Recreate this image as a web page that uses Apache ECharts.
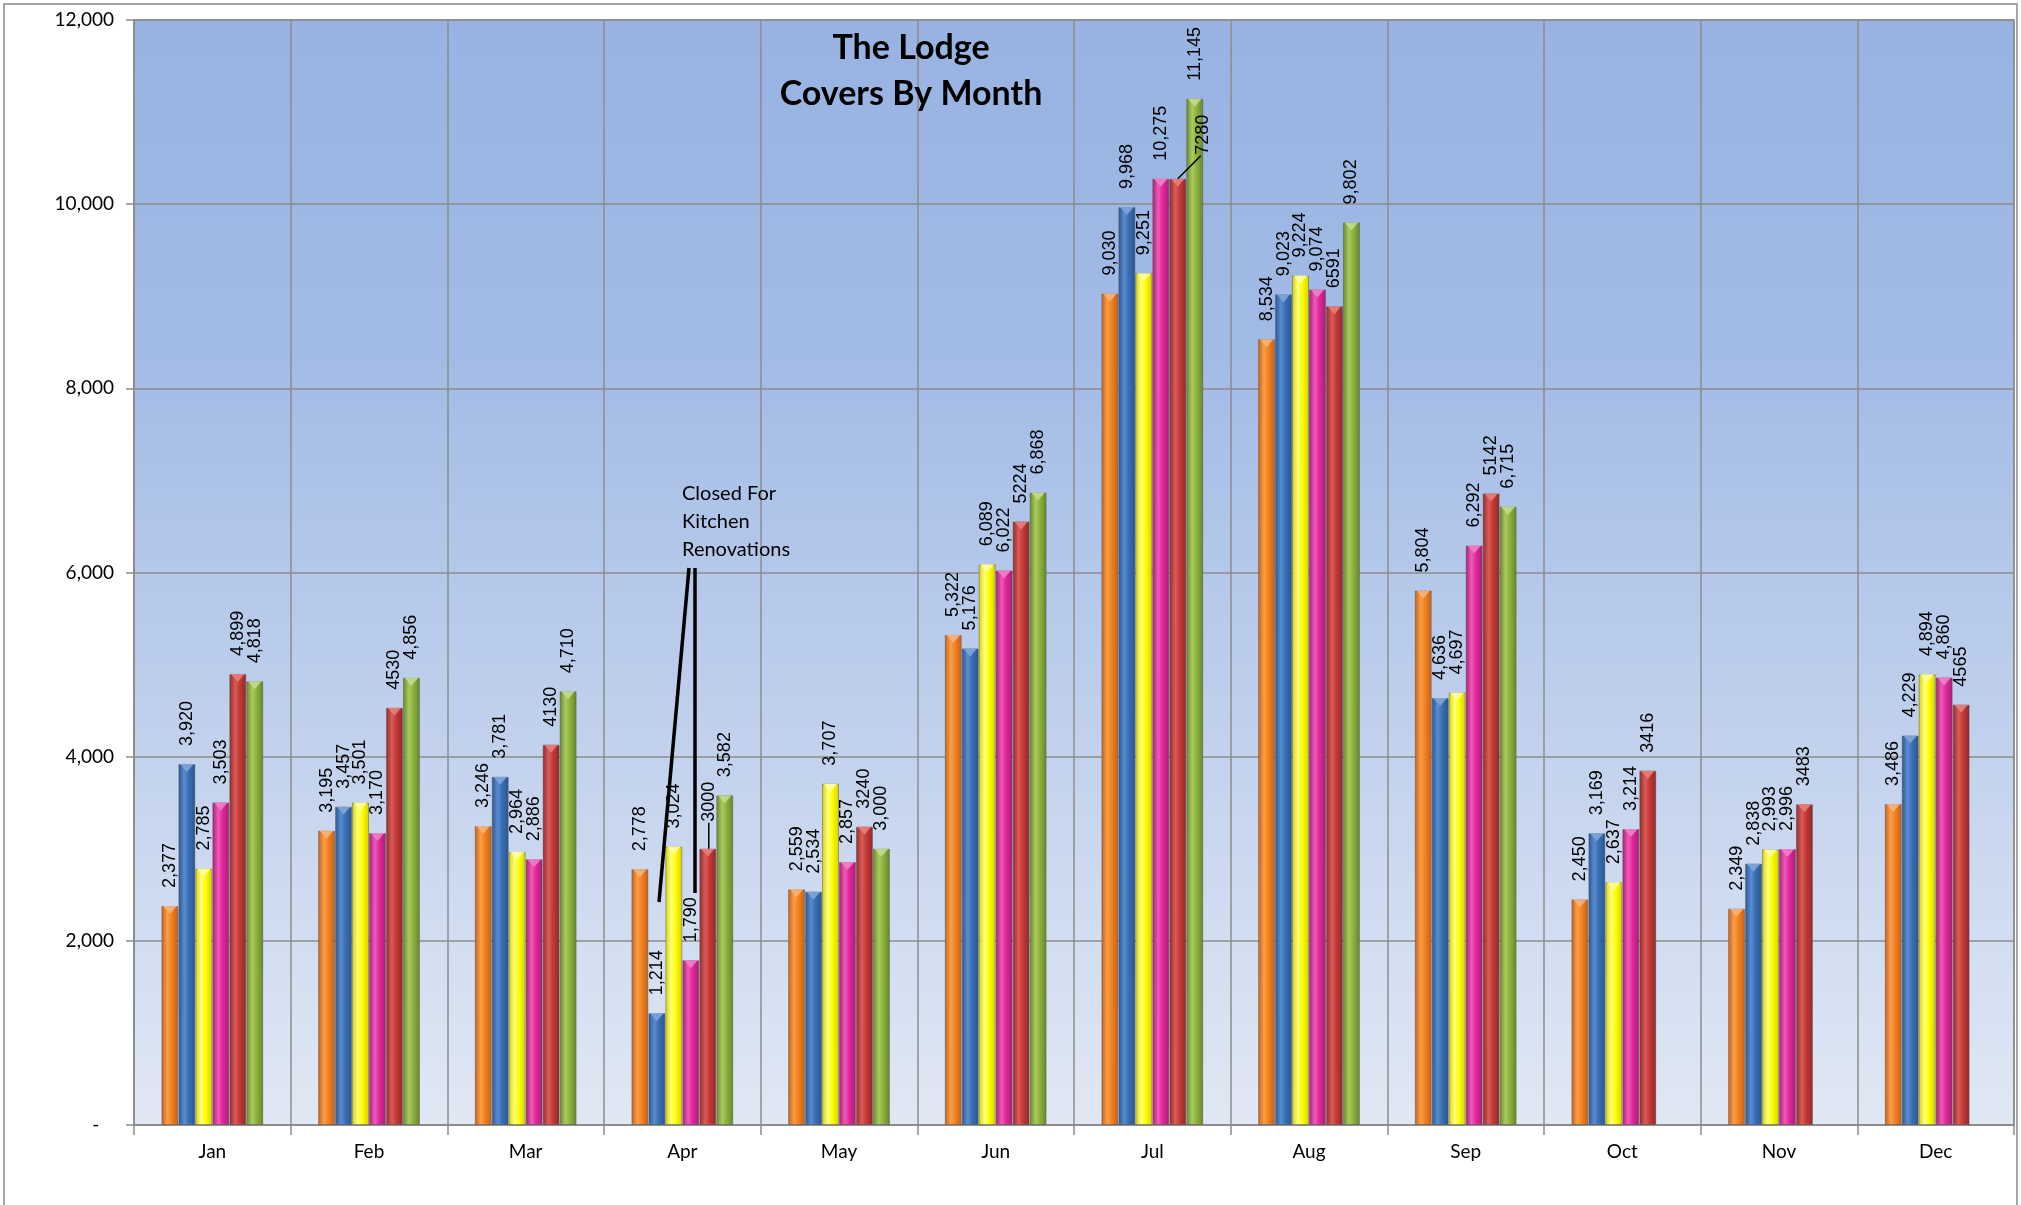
<!DOCTYPE html>
<html>
<head>
<meta charset="utf-8">
<script src="https://cdn.jsdelivr.net/npm/echarts@6/dist/echarts.min.js"></script>
<style>
html,body{margin:0;padding:0;background:#fff;}
#chart{width:2021px;height:1205px;}
</style>
</head>
<body>
<div id="chart"></div>
<script>
const months = ['Jan','Feb','Mar','Apr','May','Jun','Jul','Aug','Sep','Oct','Nov','Dec'];
const orangeVals  = [2377, 3195, 3246, 2778, 2559, 5322, 9030, 8534, 5804, 2450, 2349, 3486];
const blueVals    = [3920, 3457, 3781, 1214, 2534, 5176, 9968, 9023, 4636, 3169, 2838, 4229];
const yellowVals  = [2785, 3501, 2964, 3024, 3707, 6089, 9251, 9224, 4697, 2637, 2993, 4894];
const magentaVals = [3503, 3170, 2886, 1790, 2857, 6022, 10275, 9074, 6292, 3214, 2996, 4860];
const redVals     = [4899, 4530, 4130, 3000, 3240, 6554, 10275, 8891, 6859, 3848, 3483, 4565];
const redLabels   = ['4,899','4530','4130','3000','3240','5224','7280','6591','5142','3416','3483','4565'];
const greenVals   = [4818, 4856, 4710, 3582, 3000, 6868, 11145, 9802, 6715, null, null, null];
const yTickStep = 2000;
const yMax = 12000;

const palette = {
  orange:  ['#C4601A', '#FA9E48', '#F2821F', '#F7B27A'],
  blue:    ['#2A5690', '#5A8CD0', '#3A6EB3', '#7FA6DB'],
  yellow:  ['#D6D000', '#FFFF80', '#FFFF00', '#FFFFA0'],
  magenta: ['#A91C74', '#F05AB8', '#E0289A', '#F27FC6'],
  red:     ['#912828', '#DA5C57', '#C33A38', '#E47F7B'],
  green:   ['#65862A', '#AACB5E', '#8DB23E', '#C2DC8A']
};

function grad(c) {
  return new echarts.graphic.LinearGradient(0, 0, 1, 0, [
    {offset: 0, color: c[0]},
    {offset: 0.35, color: c[1]},
    {offset: 0.6, color: c[2]},
    {offset: 1, color: c[0]}
  ]);
}

function fmt(v) { return Number(v).toLocaleString('en-US'); }

function makeSeries(name, vals, colors, labels) {
  return {
    name: name,
    type: 'bar',
    barGap: '0%',
    barCategoryGap: '35%',
    data: vals.map(v => v),
    itemStyle: { color: grad(colors), borderColor: 'rgba(80,80,80,0.45)', borderWidth: 1 },
    label: {
      show: true,
      position: 'top',
      rotate: 90,
      align: 'left',
      verticalAlign: 'middle',
      distance: 18,
      fontFamily: 'Liberation Sans',
      fontSize: 18,
      color: '#000',
      formatter: p => (p.value == null ? '' : (labels ? labels[p.dataIndex] : fmt(p.value)))
    }
  };
}

// bevelled top of each bar (light downward triangle), same slots as the bars
function makeCap(name, vals, colors) {
  return {
    name: name + ' cap',
    type: 'pictorialBar',
    barGap: '0%',
    barCategoryGap: '35%',
    symbol: 'triangle',
    symbolRotate: 180,
    symbolPosition: 'end',
    symbolSize: ['80%', 8],
    symbolClip: false,
    silent: true,
    z: 3,
    data: vals.map(v => v),
    itemStyle: { color: colors[3], opacity: 0.9 },
    label: { show: false }
  };
}

const chart = echarts.init(document.getElementById('chart'), null, {renderer: 'canvas'});

const redSeries = makeSeries('Red', redVals, palette.red, redLabels);
redSeries.labelLayout = function (p) {
  if (p.dataIndex === 6) return { dx: 6, dy: 25 };
  if (p.dataIndex === 3) return { dx: 9, dy: 1 };
  return {};
};

function staticGraphics(extra) {
  return [
    { type: 'rect', shape: { x: 4, y: 4, width: 2013, height: 1215 }, style: { fill: 'none', stroke: '#A6A6A6', lineWidth: 2 }, silent: true, z: -1 },
    { type: 'text', left: 682, top: 480, style: { text: 'Closed For\nKitchen\nRenovations', fontFamily: 'Lato', fontSize: 20, lineHeight: 28, fill: '#000' }, z: 100 },
    { type: 'line', shape: { x1: 689, y1: 568, x2: 659, y2: 902 }, style: { stroke: '#000', lineWidth: 3.5 }, z: 100 },
    { type: 'line', shape: { x1: 695, y1: 568, x2: 695, y2: 893 }, style: { stroke: '#000', lineWidth: 3.5 }, z: 100 }
  ].concat(extra || []);
}

const option = {
  animation: false,
  backgroundColor: '#fff',
  title: {
    text: 'The Lodge\nCovers By Month',
    left: 906,
    top: 20,
    textAlign: 'center',
    textStyle: { fontFamily: 'Lato', fontWeight: 'bold', fontSize: 34, lineHeight: 46, color: '#000' }
  },
  grid: {
    left: 134, right: 7, top: 20, bottom: 80,
    show: true,
    borderColor: '#8C8C8C',
    borderWidth: 1.5,
    backgroundColor: new echarts.graphic.LinearGradient(0, 0, 0, 1, [
      {offset: 0, color: '#98B3E2'},
      {offset: 0.3, color: '#A2BBE6'},
      {offset: 1, color: '#E1E8F4'}
    ])
  },
  xAxis: {
    type: 'category',
    data: months,
    boundaryGap: true,
    axisLine: { show: true, lineStyle: { color: '#8C8C8C', width: 1.5 } },
    axisTick: { show: true, length: 10, lineStyle: { color: '#8C8C8C', width: 1.5 } },
    splitLine: { show: true, lineStyle: { color: '#8C8C8C', width: 1.5 } },
    axisLabel: { fontFamily: 'Lato', fontSize: 19, color: '#000', margin: 17 }
  },
  yAxis: {
    type: 'value',
    min: 0, max: yMax, interval: yTickStep,
    axisLine: { show: true, lineStyle: { color: '#8C8C8C', width: 1.5 } },
    axisTick: { show: true, length: 8, lineStyle: { color: '#8C8C8C', width: 1.5 } },
    splitLine: { show: true, lineStyle: { color: '#8C8C8C', width: 1.5 } },
    axisLabel: {
      fontFamily: 'Lato', fontSize: 19, color: '#000', margin: 20,
      formatter: v => v === 0 ? '-   ' : fmt(v)
    }
  },
  series: [
    makeSeries('Orange', orangeVals, palette.orange),
    makeSeries('Blue', blueVals, palette.blue),
    makeSeries('Yellow', yellowVals, palette.yellow),
    makeSeries('Magenta', magentaVals, palette.magenta),
    redSeries,
    makeSeries('Green', greenVals, palette.green),
    makeCap('Orange', orangeVals, palette.orange),
    makeCap('Blue', blueVals, palette.blue),
    makeCap('Yellow', yellowVals, palette.yellow),
    makeCap('Magenta', magentaVals, palette.magenta),
    makeCap('Red', redVals, palette.red),
    makeCap('Green', greenVals, palette.green)
  ],
  graphic: staticGraphics()
};
chart.setOption(option);

// leader lines for the two moved red-series labels, positioned from the bar layouts
function barTop(seriesIndex, dataIndex) {
  const lay = chart.getModel().getSeriesByIndex(seriesIndex).getData().getItemLayout(dataIndex);
  return { cx: lay.x + lay.width / 2, top: Math.min(lay.y, lay.y + lay.height) };
}
const jul = barTop(4, 6);
const apr = barTop(4, 3);
chart.setOption({
  graphic: staticGraphics([
    { type: 'line', shape: { x1: jul.cx, y1: jul.top, x2: jul.cx + 23, y2: jul.top - 23 }, style: { stroke: '#000', lineWidth: 1.5 }, z: 100 },
    { type: 'line', shape: { x1: apr.cx + 1, y1: apr.top, x2: apr.cx + 1, y2: apr.top - 26 }, style: { stroke: '#000', lineWidth: 1.5 }, z: 100 }
  ])
}, { replaceMerge: ['graphic'] });
</script>
</body>
</html>
